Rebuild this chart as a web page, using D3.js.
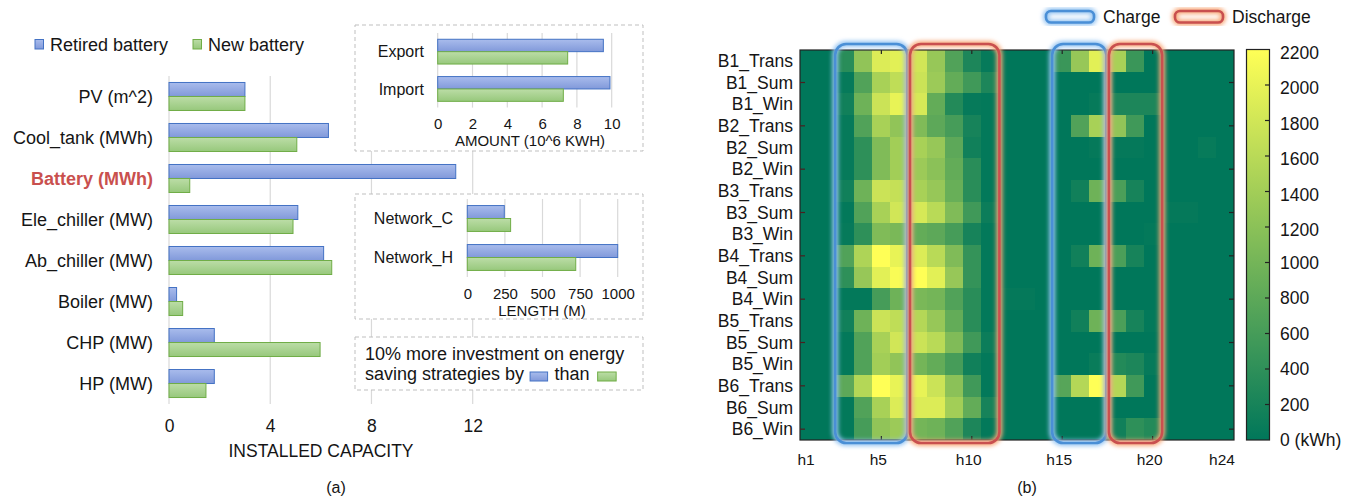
<!DOCTYPE html>
<html><head><meta charset="utf-8">
<script src="https://cdn.jsdelivr.net/npm/d3@7"></script>
<style>
body{margin:0;background:#fff;}
text{font-family:"Liberation Sans",Arial,sans-serif;fill:#151515;}
</style>
</head><body>
<svg id="chart" width="1357" height="498"></svg>
<script>
// ---------- Panel (a) data ----------
const seriesNames = ["Retired battery", "New battery"];
const categories = ["PV (m^2)", "Cool_tank (MWh)", "Battery (MWh)", "Ele_chiller (MW)", "Ab_chiller (MW)", "Boiler (MW)", "CHP (MW)", "HP (MW)"];
const retiredCapacity = [3.0, 6.3, 11.33, 5.09, 6.11, 0.30, 1.79, 1.79];
const newCapacity     = [3.0, 5.05, 0.82, 4.9, 6.43, 0.54, 5.97, 1.46];
const capacityTicks = [0, 4, 8, 12];

const gridCategories = ["Export", "Import"];
const retiredGrid = [9.52, 9.9];
const newGrid     = [7.47, 7.22];
const amountTicks = [0, 2, 4, 6, 8, 10];

const networkCategories = ["Network_C", "Network_H"];
const retiredNetwork = [246, 1000];
const newNetwork     = [288, 721];
const lengthTicks = [0, 250, 500, 750, 1000];

// ---------- Panel (b) data ----------
const rowLabels = ["B1_Trans","B1_Sum","B1_Win","B2_Trans","B2_Sum","B2_Win","B3_Trans","B3_Sum","B3_Win",
                   "B4_Trans","B4_Sum","B4_Win","B5_Trans","B5_Sum","B5_Win","B6_Trans","B6_Sum","B6_Win"];
const hourLabels = d3.range(1, 25).map(i => "h" + i);
const hourTickLabels = ["h1", "h5", "h10", "h15", "h20", "h24"];
const colorTicks = [0, 200, 400, 600, 800, 1000, 1200, 1400, 1600, 1800, 2000, 2200];
const storageKWh = [
  [0,0,350,1250,1900,1950,1800,1300,700,250,50,0,0,0,500,1300,1950,1450,500,0,0,0,0,0],
  [0,0,50,700,1450,1650,1750,1350,850,550,250,0,0,0,0,0,0,0,0,0,0,0,0,0],
  [0,0,150,950,1750,2000,1850,850,300,50,30,0,0,0,0,0,50,250,250,250,0,0,0,0],
  [0,0,50,700,1450,1250,1100,800,600,200,30,0,0,0,0,700,1450,1250,550,0,0,0,0,0],
  [0,0,50,400,1100,1400,1450,1300,800,150,30,0,0,0,0,0,40,40,40,0,0,0,60,0],
  [0,0,50,400,1100,1400,1350,1200,850,350,30,0,0,0,0,0,0,0,0,0,0,0,0,0],
  [0,0,150,950,1750,1700,1450,1300,900,350,30,0,0,0,0,150,950,650,200,0,0,0,0,0],
  [0,0,30,700,1450,1800,1850,1600,1100,550,100,0,0,0,0,0,0,0,0,0,40,40,0,0],
  [0,0,50,400,1100,1050,850,800,600,200,30,0,0,0,0,0,0,0,0,30,0,0,0,0],
  [0,0,700,1500,2200,2000,1900,1600,1100,450,30,0,0,0,0,150,950,650,200,0,0,0,0,0],
  [0,0,400,1300,1950,2150,2200,1950,1300,450,30,0,0,0,0,0,0,0,0,0,0,0,0,0],
  [0,0,30,30,600,950,1050,1000,700,350,30,40,40,0,0,0,0,0,0,0,0,0,0,0],
  [0,0,150,950,1750,1650,1550,1300,850,350,30,0,0,0,0,150,950,650,200,30,0,0,0,0],
  [0,0,30,700,1450,1800,1750,1600,1100,550,100,0,0,0,0,0,0,0,0,0,0,0,0,0],
  [0,0,30,700,1400,1250,1000,850,600,150,30,0,0,0,0,0,80,300,250,50,0,0,0,0],
  [0,0,800,1550,2200,2000,2000,1750,1200,550,30,0,0,0,750,1550,2200,1550,550,0,0,0,0,0],
  [0,0,30,700,1450,1900,1900,1900,1400,850,200,0,0,0,0,0,0,0,0,0,0,0,0,0],
  [0,0,30,600,1250,1350,1000,950,700,250,30,0,0,0,0,0,0,150,400,300,0,0,0,0]
];
const windowTypes = ["Charge", "Discharge", "Charge", "Discharge"];
const windowStart = ["h3", "h7", "h15", "h18"];
const windowEnd   = ["h6", "h11", "h17", "h20"];

// ---------- drawing ----------
const svg = d3.select("#chart");
const defs = svg.append("defs");
function grad(id, c1, c2) {
  const g = defs.append("linearGradient").attr("id", id).attr("x1", 0).attr("x2", 0).attr("y1", 0).attr("y2", 1);
  g.append("stop").attr("offset", "0%").attr("stop-color", c1);
  g.append("stop").attr("offset", "100%").attr("stop-color", c2);
}
grad("gBlue", "#a9bcec", "#8199da");
grad("gGreen", "#bcdda7", "#97c87c");
const fills = ["url(#gBlue)", "url(#gGreen)"];
const strokes = ["#4472c4", "#70ad47"];
defs.append("filter").attr("id", "blur").attr("x", "-30%").attr("y", "-30%").attr("width", "160%").attr("height", "160%")
  .append("feGaussianBlur").attr("stdDeviation", 2.2);

const FS = 17.5, FSM = 18, FSI = 16, FSA = 15;

// legend (a)
seriesNames.forEach((n, i) => {
  const x0 = [35, 193][i];
  svg.append("rect").attr("x", x0).attr("y", 39.5).attr("width", 8.5).attr("height", 9.5)
    .attr("fill", fills[i]).attr("stroke", strokes[i]).attr("stroke-width", 1);
  svg.append("text").attr("x", x0 + 15).attr("y", 44.5).attr("dy", "0.35em").attr("font-size", FSM).text(n);
});

// main bar chart
const x = d3.scaleLinear().domain([0, 12]).range([169, 472.7]);
const y = d3.scaleBand().domain(categories).range([76, 404]).paddingInner(0.317).paddingOuter(0.158);
const main = svg.append("g");
main.selectAll(".grid").data(capacityTicks).join("line")
  .attr("x1", d => x(d)).attr("x2", d => x(d)).attr("y1", 76).attr("y2", 404)
  .attr("stroke", "#d9d9d9").attr("stroke-width", 1.2);
function barPair(g, cats, a, b, xs, ys) {
  const h = ys.bandwidth() / 2;
  [a, b].forEach((vals, s) => {
    g.selectAll(".b" + s).data(cats).join("rect")
      .attr("x", xs(0)).attr("y", (d, i) => ys(d) + s * h)
      .attr("width", (d, i) => xs(vals[i]) - xs(0)).attr("height", h)
      .attr("fill", fills[s]).attr("stroke", strokes[s]).attr("stroke-width", 1);
  });
}
barPair(main, categories, retiredCapacity, newCapacity, x, y);
main.selectAll(".cl").data(categories).join("text")
  .attr("x", 153).attr("y", d => y(d) + y.bandwidth() / 2).attr("dy", "0.35em")
  .attr("text-anchor", "end").attr("font-size", FSM)
  .attr("font-weight", d => d.startsWith("Battery") ? "bold" : null)
  .style("fill", d => d.startsWith("Battery") ? "#c9504e" : null)
  .text(d => d);
const xAxis = main.append("g").attr("transform", "translate(0,404)")
  .call(d3.axisBottom(x).tickValues(capacityTicks).tickSize(0).tickPadding(0).tickFormat(d3.format("d")));
xAxis.select(".domain").remove();
xAxis.selectAll("text").attr("y", 22).attr("dy", "0.35em").attr("font-size", FS)
  .attr("font-family", "Liberation Sans, Arial, sans-serif").style("fill", "#151515");
main.append("text").attr("x", 321).attr("y", 451).attr("dy", "0.35em").attr("text-anchor", "middle")
  .attr("font-size", FS).text("INSTALLED CAPACITY");

// inset boxes
function box(x0, y0, w, h) {
  svg.append("rect").attr("x", x0).attr("y", y0).attr("width", w).attr("height", h)
    .attr("fill", "#fff").attr("stroke", "#bfbfbf").attr("stroke-width", 1).attr("stroke-dasharray", "4,3");
}
function inset(cats, a, b, dom, range, yr, ticks, tickY, title, titleX, titleY, labelX, box0) {
  box(...box0);
  const g = svg.append("g");
  const xs = d3.scaleLinear().domain(dom).range(range);
  const ys = d3.scaleBand().domain(cats).range(yr).paddingInner(0.336).paddingOuter(0.168);
  g.selectAll(".grid").data(ticks).join("line")
    .attr("x1", d => xs(d)).attr("x2", d => xs(d)).attr("y1", yr[0]).attr("y2", yr[1])
    .attr("stroke", "#d9d9d9").attr("stroke-width", 1.2);
  barPair(g, cats, a, b, xs, ys);
  g.selectAll(".cl").data(cats).join("text")
    .attr("x", labelX).attr("y", d => ys(d) + ys.bandwidth() / 2).attr("dy", "0.35em")
    .attr("text-anchor", "end").attr("font-size", FSI).text(d => d);
  const ax = g.append("g").attr("transform", `translate(0,${tickY})`)
    .call(d3.axisBottom(xs).tickValues(ticks).tickSize(0).tickPadding(0).tickFormat(d3.format("d")));
  ax.select(".domain").remove();
  ax.selectAll("text").attr("y", 0).attr("dy", "0.35em").attr("font-size", FSA)
    .attr("font-family", "Liberation Sans, Arial, sans-serif").style("fill", "#151515");
  g.append("text").attr("x", titleX).attr("y", titleY).attr("dy", "0.35em").attr("text-anchor", "middle")
    .attr("font-size", FSA).text(title);
}
inset(gridCategories, retiredGrid, newGrid, [0, 10], [437.7, 611.7], [33, 107.6], amountTicks, 124,
  "AMOUNT (10^6 KWH)", 530, 141, 424, [355, 25, 288, 126]);
inset(networkCategories, retiredNetwork, newNetwork, [0, 1000], [467.3, 617.7], [199, 277], lengthTicks, 293.5,
  "LENGTH (M)", 542, 310.5, 453, [355, 194, 288, 125]);

// note box
box(355, 337, 288, 53);
svg.append("text").attr("x", 365).attr("y", 353.5).attr("dy", "0.35em").attr("font-size", FSM)
  .text("10% more investment on energy");
const t1 = svg.append("text").attr("x", 365).attr("y", 373.5).attr("dy", "0.35em").attr("font-size", FSM)
  .text("saving strategies by");
let cx = 365 + t1.node().getComputedTextLength() + 6;
svg.append("rect").attr("x", cx).attr("y", 372).attr("width", 17.5).attr("height", 9)
  .attr("fill", fills[0]).attr("stroke", strokes[0]);
cx += 17.5 + 7;
const t2 = svg.append("text").attr("x", cx).attr("y", 373.5).attr("dy", "0.35em").attr("font-size", FSM).text("than");
cx += t2.node().getComputedTextLength() + 8;
svg.append("rect").attr("x", cx).attr("y", 372).attr("width", 18.5).attr("height", 9)
  .attr("fill", fills[1]).attr("stroke", strokes[1]);

svg.append("text").attr("x", 336).attr("y", 487).attr("dy", "0.35em").attr("text-anchor", "middle")
  .attr("font-size", 16).text("(a)");

// ---------- heatmap ----------
const hx = d3.scaleBand().domain(hourLabels).range([800, 1234]);
const hy = d3.scaleBand().domain(rowLabels).range([50, 440]);
const color = d3.scaleLinear().domain([0, 2200]).range(["rgb(0,119,90)", "rgb(255,255,86)"]).interpolate(d3.interpolateRgb);
const cells = [];
storageKWh.forEach((row, r) => row.forEach((v, c) => cells.push({ r: rowLabels[r], c: hourLabels[c], v })));
const hm = svg.append("g");
hm.selectAll("rect.cell").data(cells).join("rect").attr("class", "cell")
  .attr("x", d => hx(d.c)).attr("y", d => hy(d.r))
  .attr("width", hx.bandwidth() + 0.4).attr("height", hy.bandwidth() + 0.4)
  .attr("fill", d => color(d.v)).attr("shape-rendering", "crispEdges");
hm.append("rect").attr("x", 800).attr("y", 50).attr("width", 434).attr("height", 390)
  .attr("fill", "none").attr("stroke", "#222").attr("stroke-width", 1.2);
// ticks
const evenRows = rowLabels.filter((d, i) => i % 2 === 1);
hm.selectAll(".lt").data(evenRows).join("line")
  .attr("x1", 800).attr("x2", 805).attr("y1", d => hy(d) + hy.bandwidth() / 2).attr("y2", d => hy(d) + hy.bandwidth() / 2)
  .attr("stroke", "#4a2020").attr("stroke-width", 1.2);
hm.selectAll(".rt").data(evenRows).join("line")
  .attr("x1", 1229).attr("x2", 1234).attr("y1", d => hy(d) + hy.bandwidth() / 2).attr("y2", d => hy(d) + hy.bandwidth() / 2)
  .attr("stroke", "#222").attr("stroke-width", 1.2);
const innerHourTicks = hourTickLabels.slice(1, -1);
[[50, 54], [440, 436]].forEach(([a, b]) => {
  hm.selectAll(null).data(innerHourTicks).join("line")
    .attr("x1", d => hx(d) + hx.bandwidth() / 2).attr("x2", d => hx(d) + hx.bandwidth() / 2)
    .attr("y1", a).attr("y2", b).attr("stroke", "#222").attr("stroke-width", 1.2);
});
hm.selectAll(".rl").data(rowLabels).join("text")
  .attr("x", 793).attr("y", d => hy(d) + hy.bandwidth() / 2).attr("dy", "0.35em")
  .attr("text-anchor", "end").attr("font-size", FS).text(d => d);
hm.selectAll(".hl").data(hourTickLabels).join("text")
  .attr("x", d => hx(d) + hx.bandwidth() / 2 - 3).attr("y", 460).attr("dy", "0.35em")
  .attr("text-anchor", "middle").attr("font-size", 15.5).text(d => d);

// charge / discharge windows
const wcol = { Charge: ["#94c4f2", "#4a8fd6"], Discharge: ["#f8a878", "#c9504f"] };
windowTypes.forEach((t, i) => {
  const isC = t === "Charge";
  const x0 = hx(windowStart[i]) + (isC ? -1 : 1.5);
  const x1 = hx(windowEnd[i]) + hx.bandwidth() + (isC ? -1 : 0.5);
  const r = { x: x0, y: 44, w: x1 - x0, h: 399 };
  [[wcol[t][0], 6, "url(#blur)"], [wcol[t][1], 2.6, null]].forEach(([c, sw, f]) => {
    hm.append("rect").attr("x", r.x).attr("y", r.y).attr("width", r.w).attr("height", r.h)
      .attr("rx", 11).attr("fill", "none").attr("stroke", c).attr("stroke-width", sw).attr("filter", f);
  });
});
// window legend
["Charge", "Discharge"].forEach((t, i) => {
  const x0 = [1046, 1175][i];
  [[wcol[t][0], 6, "url(#blur)"], [wcol[t][1], 2.6, null]].forEach(([c, sw, f]) => {
    svg.append("rect").attr("x", x0).attr("y", 11).attr("width", 48).attr("height", 11.5).attr("rx", 5)
      .attr("fill", "none").attr("stroke", c).attr("stroke-width", sw).attr("filter", f);
  });
  svg.append("text").attr("x", x0 + 57).attr("y", 16.5).attr("dy", "0.35em").attr("font-size", FS).text(t);
});

// colorbar
const cs = d3.scaleLinear().domain([0, 2200]).range([440, 49.5]);
const cg = defs.append("linearGradient").attr("id", "cbar").attr("x1", 0).attr("x2", 0).attr("y1", 1).attr("y2", 0);
cg.append("stop").attr("offset", "0%").attr("stop-color", color(0));
cg.append("stop").attr("offset", "100%").attr("stop-color", color(2200));
svg.append("rect").attr("x", 1246.5).attr("y", 49.5).attr("width", 23).attr("height", 390.5)
  .attr("fill", "url(#cbar)").attr("stroke", "#222").attr("stroke-width", 1.2);
svg.selectAll(".ct").data(colorTicks.slice(1, -1)).join("line")
  .attr("x1", 1265).attr("x2", 1269.5).attr("y1", d => cs(d)).attr("y2", d => cs(d))
  .attr("stroke", "#222").attr("stroke-width", 1.2);
svg.selectAll(".cbl").data(colorTicks).join("text")
  .attr("x", 1280).attr("y", d => cs(d) + (d > 1000 ? 3 : 0)).attr("dy", "0.35em").attr("font-size", FS)
  .text(d => d === 0 ? "0 (kWh)" : d);

svg.append("text").attr("x", 1027).attr("y", 487).attr("dy", "0.35em").attr("text-anchor", "middle")
  .attr("font-size", 16).text("(b)");
</script>
</body></html>
